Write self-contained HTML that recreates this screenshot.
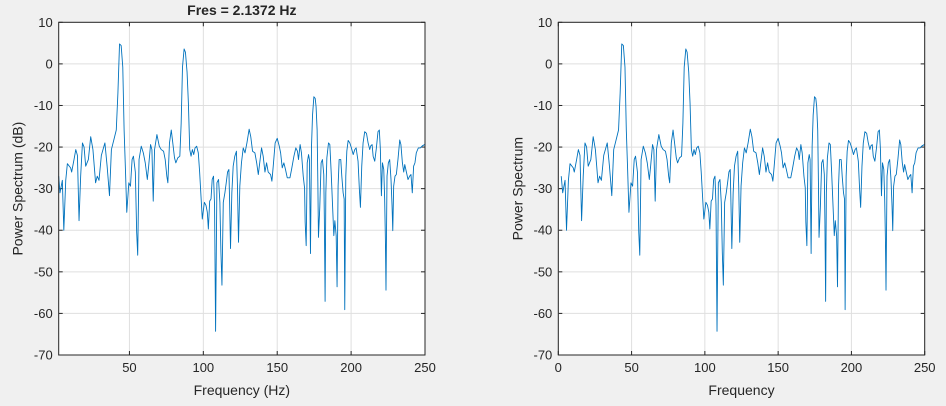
<!DOCTYPE html>
<html><head><meta charset="utf-8"><style>
body{margin:0;background:#f0f0f0;width:946px;height:401px;overflow:hidden;font-family:"Liberation Sans",Arial,sans-serif}
svg text{font-family:"Liberation Sans",Arial,sans-serif;fill:#262626}
</style></head><body>
<svg id="chart" width="946" height="401" xmlns="http://www.w3.org/2000/svg"></svg>
<script>
const freqs=[2,3,4.6,5.6,6.9,8,10.2,10.9,12.5,13.7,14.8,15.9,17,18.2,19.3,20.4,22.2,23.8,25.3,27.1,28.2,29.4,31,33.4,34.9,36.5,37.8,39.7,41.1,42.2,43.3,44.4,45.5,46.4,47.3,48.2,49.6,50.7,51.8,52.7,54,54.9,55.6,56.5,58,59.4,60.7,62.1,63,64.3,65.2,66.1,67,68.6,70.2,71.5,73.1,74.2,75.3,76,77.1,78.3,79.1,80.5,81.4,82.7,84.1,85,85.9,87,87.9,89,89.9,90.8,91.7,92.6,93.5,94.4,95.5,96.6,97.5,98.4,99.3,100.7,101.8,102.7,103.4,104.3,105.2,106,106.9,107.6,108.3,109.2,110.3,111.2,111.9,112.6,113.5,114.6,115.5,116.4,117.3,117.7,118.4,119.3,120.2,121.3,122.4,123.1,123.8,124.7,125.8,127,128.2,129.5,131,132.1,133.3,134.9,136.1,137.2,138.3,139.4,140.5,141.7,142.8,143.9,145.5,146.4,147.3,148.6,150,151.4,152.3,153.4,154.5,155.6,156.8,158.6,159.7,161.3,162.6,163.7,164.4,165.5,166.4,167.6,168.5,168.9,169.6,170.3,171.2,171.8,172.5,173.2,173.9,174.8,175.7,176.3,177,177.5,177.9,178.8,179.7,180.6,181.5,181.9,182.4,182.9,183.6,184.7,185.6,186.5,187.4,188.3,189,189.9,190.5,191.2,191.9,193,193.7,194.6,195.3,195.7,196.4,197.1,198,199.1,200.2,201.4,202.5,203.4,204.7,205.6,206.3,207.2,208.1,209.2,210.4,211.5,212.6,213.3,214.2,214.9,216,217.1,218.2,219.1,219.8,220.5,221.2,222.1,222.7,223.2,223.6,224.3,225.2,226.1,227,227.7,228.2,228.8,229.7,230.6,231.7,232.9,233.7,234.7,235.6,236.3,237.4,238.5,239.6,240.5,241.4,242.3,243.2,244.1,245.5,246.8,248.2,249.8];
const dbVals=[-27,-31,-28,-40,-28,-24,-25,-26,-23,-20.6,-22,-37.7,-27,-19,-20,-24.6,-23,-17.5,-20.6,-28.6,-27,-28,-22,-19,-24.6,-31.7,-20.6,-17.9,-15.9,-7,4.8,4.4,-0.8,-15.9,-25.4,-35.7,-28.6,-29.4,-23,-22.2,-26,-40.5,-46,-23,-19.8,-21.4,-23.8,-27.8,-24.6,-19.4,-20.6,-33,-20.6,-17,-19.8,-20.6,-21,-23,-27,-28.6,-19,-15.9,-18.3,-22.6,-23.8,-22.6,-22.2,-14.3,-0.8,3.6,2.8,-2,-9.5,-20.6,-22.2,-20.6,-21.8,-20.2,-19.8,-21.4,-26,-31.7,-37.3,-33.3,-34,-35.7,-39.7,-33,-32.5,-27.8,-27,-34,-64.3,-28.6,-27.8,-33.3,-45.2,-53.2,-33.3,-31,-28.6,-26,-25.4,-31.7,-44.4,-31,-24.6,-22.2,-21,-29.4,-42.9,-29.4,-23.8,-20.2,-21.4,-19,-15.7,-17.5,-21,-21.4,-23.8,-26.6,-23.4,-20.2,-22.2,-26,-23.8,-26,-26.6,-28.2,-24.6,-19,-17.9,-19.8,-21.4,-25,-23.8,-25.4,-27.4,-27.4,-25.4,-22.2,-20.2,-21,-23,-19.4,-21.4,-27,-29.8,-38,-43.7,-23.8,-21.8,-23,-45.6,-19.8,-12.3,-7.9,-8.3,-10.3,-15.9,-28.6,-41.7,-34.5,-23.8,-23,-26.6,-37.3,-57.1,-31,-22.6,-19,-19.4,-26,-33.7,-41.3,-37.7,-41.3,-53.6,-29.4,-23,-23,-27,-31,-32.5,-59.1,-27,-21,-18.4,-19,-20.2,-21.8,-20.6,-20.2,-23.4,-30.2,-34.5,-24.6,-19,-16.3,-16.7,-19,-20.6,-19.7,-19.4,-22.2,-23.4,-20.2,-16.3,-15.9,-20.6,-31.7,-23.8,-25.4,-32.5,-42.1,-54.4,-27,-23.8,-23,-27.8,-34.1,-40.1,-29.4,-27,-26.6,-23,-18.3,-19.4,-23.8,-26,-24.2,-26,-27.8,-27,-26.6,-31,-24.6,-23.8,-21.4,-20.2,-20.2,-19.7,-19.4];
const yTicks=[10,0,-10,-20,-30,-40,-50,-60,-70];
const xTicksLeft=[50,100,150,200,250];
const xTicksRight=[0,50,100,150,200,250];
const NS='http://www.w3.org/2000/svg';
const svg=document.getElementById('chart');
function mk(tag,attrs,parent){const e=document.createElementNS(NS,tag);for(const k in attrs)e.setAttribute(k,attrs[k]);(parent||svg).appendChild(e);return e;}
function drawAxes(prefix,x0,x1,xmin,xmax,xTicks,ylabel,title){
  const y0=22.3,y1=355,ymin=-70,ymax=10;
  const sx=v=>x0+(v-xmin)/(xmax-xmin)*(x1-x0);
  const sy=v=>y0+(ymax-v)/(ymax-ymin)*(y1-y0);
  const g=mk('g',{});
  
  
  mk('rect',{x:x0,y:y0,width:x1-x0,height:y1-y0,fill:'#fff'},g);
  yTicks.forEach(t=>{
    const l=mk('line',{x1:x0,x2:x1,y1:sy(t),y2:sy(t),stroke:'#dfdfdf','stroke-width':1},g);
    
    
    mk('line',{x1:x0,x2:x0+4,y1:sy(t),y2:sy(t),stroke:'#262626'},g);
    mk('line',{x1:x1,x2:x1-4,y1:sy(t),y2:sy(t),stroke:'#262626'},g);
    const tx=mk('text',{x:x0-6,y:sy(t)+4.5,'text-anchor':'end','font-size':13},g);
    tx.textContent=t;
    
    
  });
  xTicks.forEach(t=>{
    const X=sx(t);
    const l=mk('line',{x1:X,x2:X,y1:y0,y2:y1,stroke:'#dfdfdf','stroke-width':1},g);
    
    
    mk('line',{x1:X,x2:X,y1:y1,y2:y1-4,stroke:'#262626'},g);
    mk('line',{x1:X,x2:X,y1:y0,y2:y0+4,stroke:'#262626'},g);
    const tx=mk('text',{x:X,y:y1+17,'text-anchor':'middle','font-size':13},g);
    tx.textContent=t;
    
    
  });
  let d='';
  freqs.forEach((f,i)=>{d+=(i?'L':'M')+Math.max(x0,sx(f)).toFixed(2)+','+sy(dbVals[i]).toFixed(2);});
  const p=mk('path',{d:d,fill:'none',stroke:'#0072BD','stroke-width':0.9,'stroke-linejoin':'round'},g);
  
  
  const b=mk('rect',{x:x0,y:y0,width:x1-x0,height:y1-y0,fill:'none',stroke:'#262626','stroke-width':1},g);
  
  
  const xl=mk('text',{x:(x0+x1)/2,y:395,'text-anchor':'middle','font-size':14},g);
  xl.textContent='Frequency'+(prefix==='left'?' (Hz)':'');
  
  
  const yl=mk('text',{x:0,y:0,'text-anchor':'middle','font-size':14,transform:'translate('+(x0-36)+','+((y0+y1)/2)+') rotate(-90)'},g);
  yl.textContent=ylabel;
  
  
  if(title){
    const tt=mk('text',{x:(x0+x1)/2,y:15,'text-anchor':'middle','font-size':14,'font-weight':'bold'},g);
    tt.textContent=title;
    
    
  }
}
drawAxes('left',58.7,425,2.1372,250,xTicksLeft,'Power Spectrum (dB)','Fres = 2.1372 Hz');
drawAxes('right',558.3,924.7,0,250,xTicksRight,'Power Spectrum',null);
</script>
</body></html>
